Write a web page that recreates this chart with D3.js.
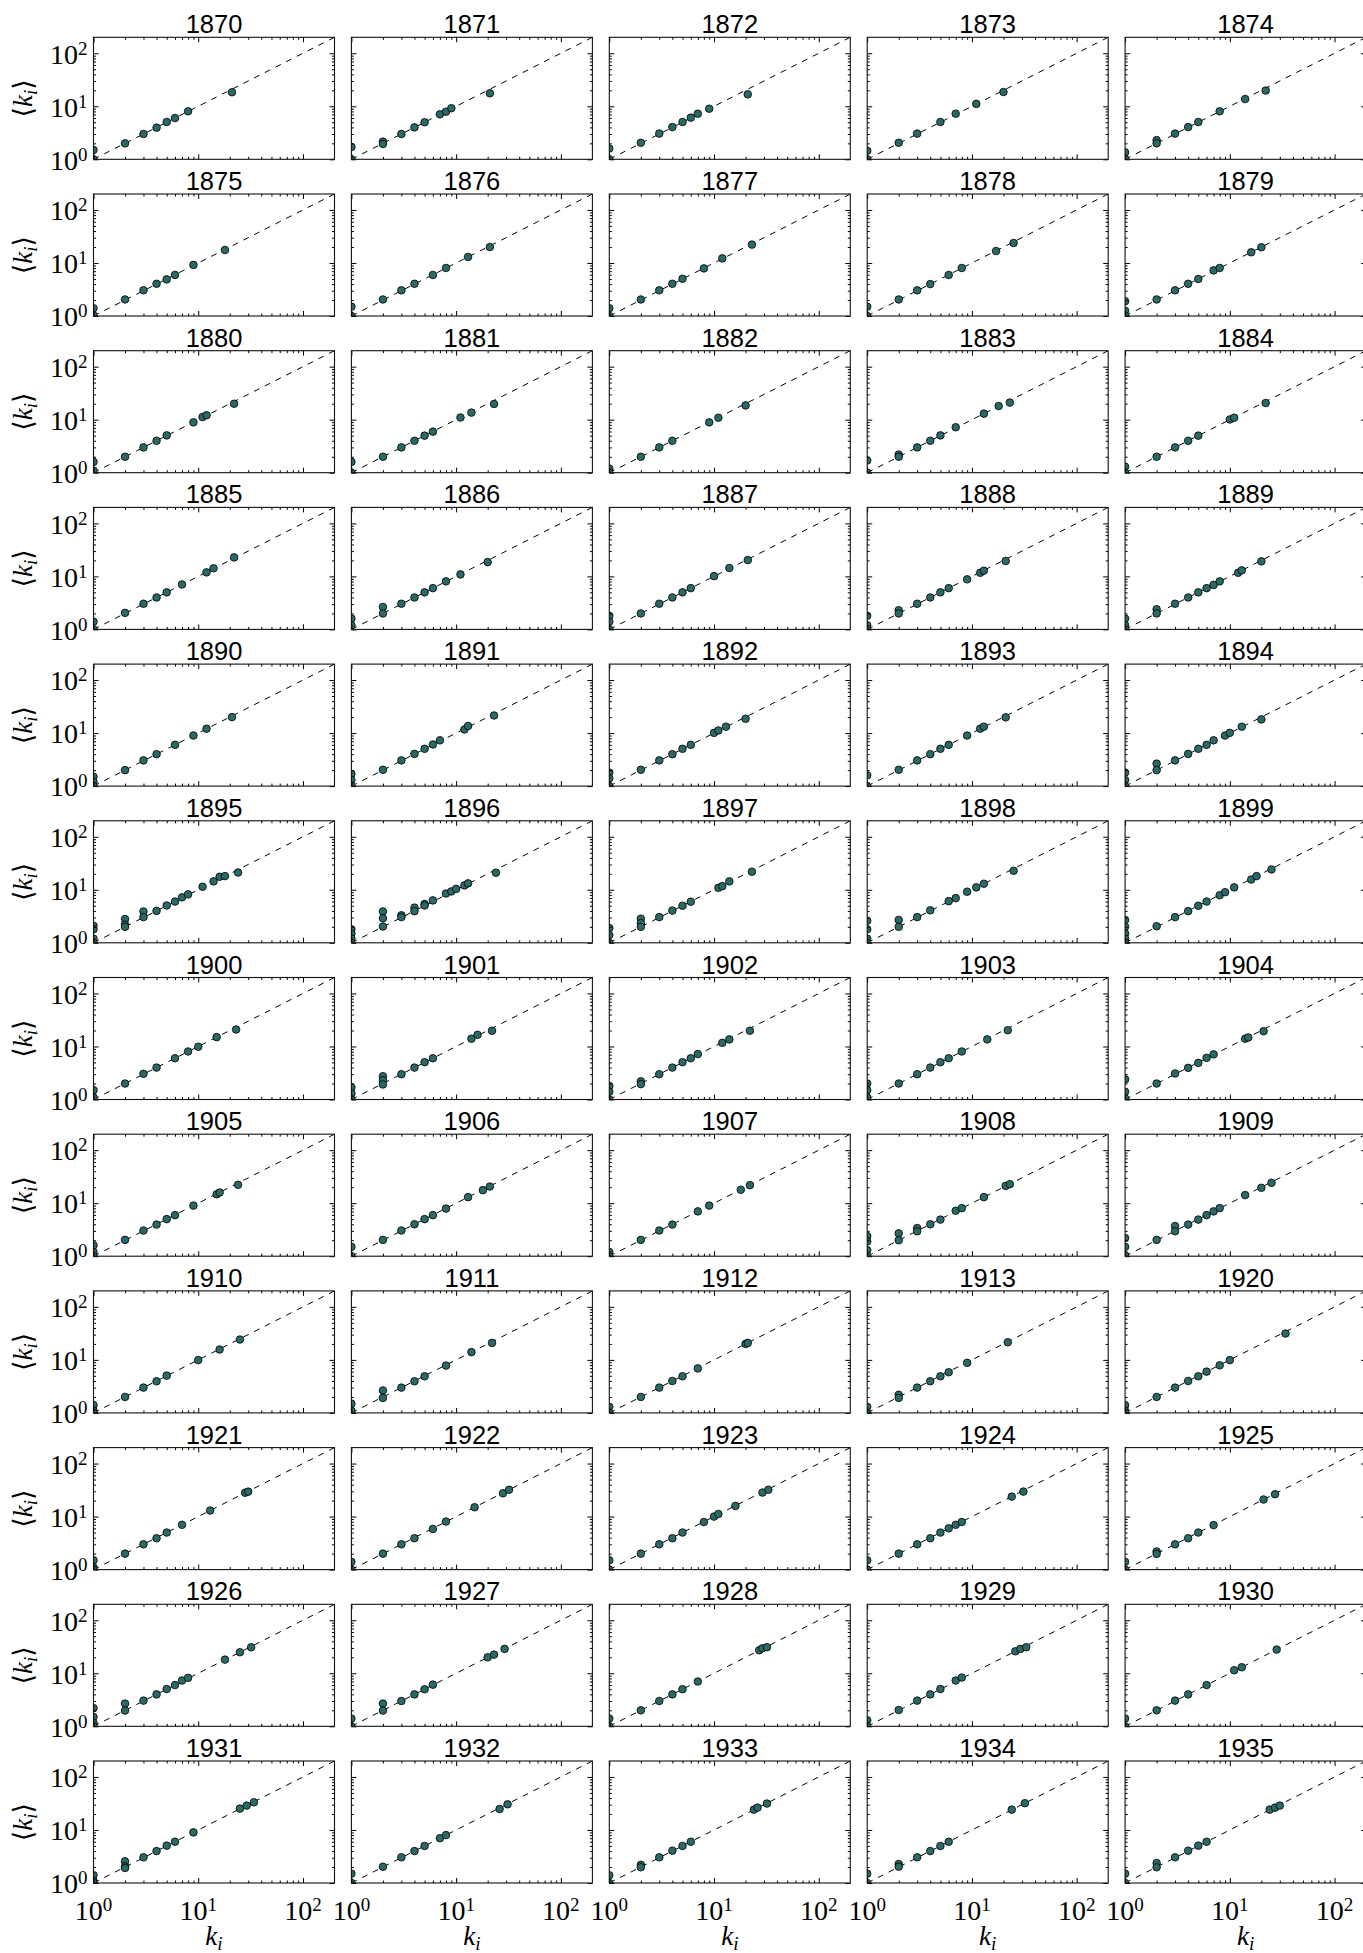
<!DOCTYPE html>
<html>
<head>
<meta charset="utf-8">
<script src="https://cdn.jsdelivr.net/npm/d3@7"></script>
<style>
  html, body { margin: 0; padding: 0; background: #fff; }
  svg { display: block; }
</style>
</head>
<body>
<svg id="chart" width="1363" height="1953"></svg>
<script>
// Degree k_i of each node versus the average degree of its neighbours <k_i>, one panel per year.
const years = [1870, 1871, 1872, 1873, 1874, 1875, 1876, 1877, 1878, 1879,
               1880, 1881, 1882, 1883, 1884, 1885, 1886, 1887, 1888, 1889,
               1890, 1891, 1892, 1893, 1894, 1895, 1896, 1897, 1898, 1899,
               1900, 1901, 1902, 1903, 1904, 1905, 1906, 1907, 1908, 1909,
               1910, 1911, 1912, 1913, 1920, 1921, 1922, 1923, 1924, 1925,
               1926, 1927, 1928, 1929, 1930, 1931, 1932, 1933, 1934, 1935];

// [k_i, <k_i>] pairs
const d1870 = [[1,1.5],[1,1.0],[2,2],[3,3],[4,3.95],[5,5.05],[6,6],[8,8.05],[21,18.4]];
const d1871 = [[1,1.7],[1,1],[2,2.15],[2,1.95],[3,3],[4,4],[5,5],[7,7.05],[8,7.9],[9,9.2],[21,17.6]];
const d1872 = [[1,1.6],[1,1],[2,2.05],[3,3.05],[4,4.05],[5,5.05],[6,6.1],[7,7.25],[9,9],[21,16.8]];
const d1873 = [[1,1.45],[1,1],[2,2.05],[3,3.05],[5,5.05],[7,7.25],[11,11.1],[20,18.6]];
const d1874 = [[1,1.35],[1,1.02],[2,2.3],[2,2],[3,3.05],[4,4.05],[5,5.05],[8,8.05],[14,13.7],[22,19.8]];
const d1875 = [[1,1.4],[1,1.03],[2,2.05],[3,3.05],[4,4.05],[5,4.9],[6,5.95],[9,9.2],[18,17.6]];
const d1876 = [[1,1.5],[1,1],[2,2.05],[3,3.05],[4,4.05],[6,5.95],[8,8.05],[13,13],[21,20]];
const d1877 = [[1,1.4],[1,1],[2,2.05],[3,3.05],[4,4.05],[5,5.05],[8,7.9],[12,12.2],[23,22.2]];
const d1878 = [[1,1.5],[1,1],[2,2.05],[3,3.05],[4,4],[6,5.95],[8,8.05],[17,16.8],[25,23.8]];
const d1879 = [[1,1.9],[1,1.25],[1,1],[2,2.05],[3,3.05],[4,4.05],[5,5],[7,7.25],[8,8.05],[16,15.9],[20,19.8]];
const d1880 = [[1,1.6],[1,1.1],[2,2],[3,3],[4,4],[5,5.05],[9,8.9],[11,11.2],[12,12.1],[22,20]];
const d1881 = [[1,1.6],[1,1],[2,2],[3,3],[4,4],[5,5],[6,5.95],[11,11],[14,13.6],[23,19.8]];
const d1882 = [[1,1.2],[1,1],[2,2],[3,3],[4,4],[9,8.9],[11,10.9],[20,18.6]];
const d1883 = [[1,1.7],[1,1],[2,2.2],[2,2],[3,3],[4,4],[5,5.05],[7,7.2],[13,13],[18,18.1],[23,21]];
const d1884 = [[1,1.3],[1,1],[2,2],[3,3],[4,4],[5,5],[10,10.1],[11,10.9],[22,20.6]];
const d1885 = [[1,1.4],[1,1],[2,2.05],[3,3.05],[4,4],[5,5],[7,7.05],[12,11.9],[14,14.2],[22,22.8]];
const d1886 = [[1,1.6],[1,1.2],[2,2.65],[2,2],[3,3.05],[4,4],[5,5],[6,6],[8,8.05],[11,10.9],[20,18.6]];
const d1887 = [[1,1.8],[1,1.4],[1,1],[2,2],[3,3.05],[4,4],[5,5],[6,6],[10,10.1],[14,14.4],[21,20.3]];
const d1888 = [[1,1.8],[1,1.2],[1,1],[2,2.3],[2,2],[3,3.05],[4,4],[5,5],[6,6],[9,8.8],[12,11.7],[13,12.8],[21,19.5]];
const d1889 = [[1,1.6],[1,1.2],[1,1],[2,2.4],[2,2],[3,3.05],[4,4],[5,5],[6,6],[7,6.9],[8,8.05],[12,11.7],[13,13],[20,19.2]];
const d1890 = [[1,1.5],[1,1.2],[1,1],[2,2],[3,3.05],[4,4],[6,6],[9,9],[12,12.1],[21,20]];
const d1891 = [[1,1.7],[1,1.3],[1,1],[2,2.03],[3,3.05],[4,4.05],[5,5.05],[6,6.1],[7,7.3],[12,11.7],[13,13.6],[23,21.5]];
const d1892 = [[1,1.8],[1,1.4],[1,1],[2,2.03],[3,3.05],[4,4],[5,5.05],[6,6],[10,10.1],[11,11.2],[13,13.2],[20,18.6]];
const d1893 = [[1,1.6],[1,1],[2,2.03],[3,3.05],[4,4],[5,5.05],[6,6],[9,9],[12,12.1],[13,13.2],[21,19.8]];
const d1894 = [[1,1.8],[1,1.3],[1,1],[2,2.65],[2,2],[3,3.05],[4,4.05],[5,5.05],[6,6],[7,7.3],[9,9],[10,10.1],[13,13.2],[20,18.1]];
const d1895 = [[1,2.1],[1,1.8],[1,1.2],[1,1],[2,2.8],[2,2.2],[2,2],[3,3.9],[3,3.05],[4,4],[5,5.05],[6,6],[7,7.2],[8,8.2],[11,11.4],[14,14.4],[16,17.6],[18,18.1],[24,21.2]];
const d1896 = [[1,1.8],[1,1.5],[1,1.2],[1,1],[2,3.9],[2,2.9],[2,2.03],[3,3.3],[3,3.05],[4,4.6],[4,3.95],[5,5.4],[5,5.05],[6,6.3],[8,8.5],[9,9.3],[10,10.4],[12,12.1],[13,13.2],[24,21]];
const d1897 = [[1,1.9],[1,1.4],[1,1],[2,2.85],[2,2.35],[2,2],[3,3.05],[4,4.05],[5,5],[6,5.95],[11,10.9],[12,11.7],[14,14.4],[23,21.9]];
const d1898 = [[1,2.6],[1,1.8],[1,1.2],[1,1],[2,2.7],[2,2],[3,3.05],[4,4.1],[6,6.1],[7,6.95],[9,9.2],[11,11.1],[13,13],[25,22.8]];
const d1899 = [[1,2.7],[1,2.0],[1,1.5],[1,1.2],[1,1],[2,2.05],[3,3.05],[4,3.95],[5,5],[6,6],[8,7.9],[9,9],[11,11.1],[16,15.6],[18,18.1],[25,24.2]];
const d1900 = [[1,1.5],[1,1.1],[2,2],[3,3.05],[4,4],[6,6],[8,8.05],[10,9.9],[15,15],[23,20.9]];
const d1901 = [[1,1.7],[1,1.3],[1,1],[2,2.75],[2,2.3],[2,1.92],[3,3],[4,4],[5,5.05],[6,6],[14,14],[16,16.6],[22,19.8]];
const d1902 = [[1,1.8],[1,1.4],[1,1],[2,2.2],[2,1.95],[3,3],[4,4],[5,5.05],[6,6],[7,7.2],[12,11.7],[14,13.6],[22,19.8]];
const d1903 = [[1,2.0],[1,1.5],[1,1.1],[2,2],[3,3],[4,4],[5,5.05],[6,6],[8,8.05],[14,13.6],[22,20.3]];
const d1904 = [[1,2.4],[1,1.4],[1,1.05],[2,2],[3,3.1],[4,3.95],[5,4.9],[6,6.1],[7,7.1],[14,14],[15,14.8],[21,19.4]];
const d1905 = [[1,1.6],[1,1.2],[1,1],[2,2.03],[3,3.05],[4,3.95],[5,5],[6,5.95],[9,9],[15,14.7],[16,15.9],[24,22.2]];
const d1906 = [[1,1.5],[1,1],[2,2.03],[3,3.05],[4,4],[5,5],[6,5.95],[8,7.9],[13,13],[18,17.6],[21,20.6]];
const d1907 = [[1,1.2],[1,1],[2,2.03],[3,3.05],[4,3.95],[7,7],[9,9],[18,17.9],[22,21.9]];
const d1908 = [[1,2.4],[1,1.9],[1,1.3],[1,1],[2,2.7],[2,2],[3,3.4],[3,2.95],[4,4],[5,4.9],[7,7.2],[8,8.05],[13,13],[21,21.2],[23,22.8]];
const d1909 = [[1,2.2],[1,1.5],[1,1.05],[2,2.03],[3,3.7],[3,2.95],[4,3.95],[5,4.9],[6,5.95],[7,7],[8,8.05],[14,14.2],[20,19.5],[25,24.2]];
const d1910 = [[1,1.4],[1,1.1],[1,1],[2,2],[3,3],[4,3.95],[5,5.05],[10,9.9],[16,15.7],[25,24.2]];
const d1911 = [[1,1.5],[1,1.1],[2,2.65],[2,1.92],[3,3],[4,3.95],[5,4.9],[8,7.8],[14,14],[22,20.9]];
const d1912 = [[1,1.3],[1,1],[2,2],[3,3],[4,4],[5,4.9],[7,6.9],[20,20],[21,20.9]];
const d1913 = [[1,1.3],[1,1],[2,2.2],[2,1.92],[3,3],[4,3.95],[5,4.9],[6,5.85],[9,8.8],[22,21.5]];
const d1920 = [[1,1.4],[1,1.1],[1,1],[2,2],[3,3],[4,4],[5,4.9],[6,6],[8,7.9],[10,9.9],[34,31.4]];
const d1921 = [[1,1.5],[1,1.1],[1,1],[2,2],[3,3],[4,3.9],[5,5],[7,7],[13,13],[28,28.2],[30,29.5]];
const d1922 = [[1,1.4],[1,1],[2,2],[3,3],[4,3.9],[6,5.85],[8,8.05],[15,15],[28,27.5],[32,32]];
const d1923 = [[1,1.5],[1,1],[2,2],[3,3],[4,3.9],[5,5],[8,7.9],[10,10],[11,11.2],[16,15.9],[29,28.4],[33,32]];
const d1924 = [[1,1.5],[1,1],[2,2],[3,3],[4,3.9],[5,5],[6,6],[7,7],[8,7.9],[24,23.8],[31,29.6]];
const d1925 = [[1,1.4],[1,1],[2,2.2],[2,1.98],[3,3],[4,3.9],[5,5],[7,6.9],[21,21],[27,26.4]];
const d1926 = [[1,2.2],[1,1.5],[1,1.15],[1,1],[2,2.68],[2,1.98],[3,3.05],[4,4],[5,5.05],[6,6],[7,7.3],[8,8.2],[18,18.1],[25,24.9],[32,30.9]];
const d1927 = [[1,1.4],[1,1],[2,2.68],[2,1.98],[3,3],[4,4],[5,5],[6,6.1],[20,20],[23,22.5],[29,28.8]];
const d1928 = [[1,1.4],[1,1],[2,2],[3,3],[4,4],[5,5],[7,7],[27,27.2],[29,29.6],[32,31]];
const d1929 = [[1,1.3],[1,1],[2,2.03],[3,3.05],[4,4],[5,5.05],[7,7.3],[8,8.3],[26,26],[29,28.8],[33,31]];
const d1930 = [[1,1.4],[1,1],[2,2],[3,3.05],[4,4],[6,6],[11,11.4],[13,13],[28,28]];
const d1931 = [[1,1.4],[1,1.1],[1,1],[2,2.56],[2,2.06],[2,1.92],[3,3.05],[4,4],[5,5.06],[6,6],[9,9],[25,25.3],[29,28.8],[34,33.3]];
const d1932 = [[1,1.5],[1,1],[2,2.03],[3,3.05],[4,4],[5,5],[7,7],[8,8],[26,24.9],[31,30.5]];
const d1933 = [[1,1.4],[1,1],[2,2.2],[2,1.98],[3,3.05],[4,4.07],[5,5],[6,6],[24,24.2],[26,26.4],[32,31.5]];
const d1934 = [[1,1.5],[1,1],[2,2.28],[2,2.03],[3,3.05],[4,4],[5,5],[6,6],[24,24.2],[32,32]];
const d1935 = [[1,1.5],[1,1],[2,2.38],[2,1.98],[3,3.05],[4,4.07],[5,5.06],[6,6],[24,24.2],[27,26.4],[30,28.8]];

const panels = [d1870, d1871, d1872, d1873, d1874, d1875, d1876, d1877, d1878, d1879,
                d1880, d1881, d1882, d1883, d1884, d1885, d1886, d1887, d1888, d1889,
                d1890, d1891, d1892, d1893, d1894, d1895, d1896, d1897, d1898, d1899,
                d1900, d1901, d1902, d1903, d1904, d1905, d1906, d1907, d1908, d1909,
                d1910, d1911, d1912, d1913, d1920, d1921, d1922, d1923, d1924, d1925,
                d1926, d1927, d1928, d1929, d1930, d1931, d1932, d1933, d1934, d1935];

// axis extent, decade ticks and their exponent labels, log minor ticks
const axisDomain = [1, 200];
const majorTicks = [1, 10, 100];
const tickExponents = ["0", "1", "2"];
const minorTicks = [2, 3, 4, 5, 6, 7, 8, 9, 20, 30, 40, 50, 60, 70, 80, 90];

// grid geometry
const nCols = 5, nRows = 12;
const W = 241, H = 122;
const left0 = 93.5, top0 = 37.3;
const colStep = 257.9, rowStep = 156.7;

const markerFill = "#2a6966";
const serif = "'Liberation Serif', 'DejaVu Serif', serif";
const sans = "'Liberation Sans', Arial, sans-serif";

const svg = d3.select("#chart");
svg.append("rect").attr("width", 1363).attr("height", 1953).attr("fill", "#fff");

const x = d3.scaleLog().domain(axisDomain).range([0, W]);
const y = d3.scaleLog().domain(axisDomain).range([H, 0]);

svg.append("defs").append("clipPath").attr("id", "plot-clip")
  .append("rect").attr("width", W).attr("height", H);

function powerLabel(text, exp) {
  text.append("tspan").text("10");
  text.append("tspan").attr("dy", -9).attr("font-size", 19).text(exp);
}

function styleAxis(g) {
  g.select(".domain").remove();
  g.selectAll(".tick line").attr("stroke", "#000").attr("stroke-width", 1);
  g.selectAll(".tick text").remove();
}

years.forEach((year, i) => {
  const col = i % nCols, row = Math.floor(i / nCols);
  const g = svg.append("g")
    .attr("transform", `translate(${left0 + col * colStep},${top0 + row * rowStep})`);

  const plot = g.append("g").attr("clip-path", "url(#plot-clip)");

  // reference line <k_i> = k_i
  plot.append("line")
    .attr("x1", x(axisDomain[0])).attr("y1", y(axisDomain[0]))
    .attr("x2", x(axisDomain[1])).attr("y2", y(axisDomain[1]))
    .attr("stroke", "#000").attr("stroke-width", 1)
    .attr("stroke-dasharray", "6,6");

  plot.selectAll("circle")
    .data(panels[i])
    .join("circle")
    .attr("cx", d => x(d[0]))
    .attr("cy", d => y(d[1]))
    .attr("r", 3.8)
    .attr("fill", markerFill)
    .attr("stroke", "#000")
    .attr("stroke-width", 0.8);

  // inward ticks on all four sides
  const sides = [
    [d3.axisBottom(x), `translate(0,${H})`],
    [d3.axisTop(x), "translate(0,0)"],
    [d3.axisLeft(y), "translate(0,0)"],
    [d3.axisRight(y), `translate(${W},0)`]
  ];
  sides.forEach(([axis, tr]) => {
    g.append("g").attr("transform", tr)
      .call(axis.tickValues(minorTicks).tickSizeInner(-2.5).tickSizeOuter(0).tickFormat(""))
      .call(styleAxis);
    g.append("g").attr("transform", tr)
      .call(axis.tickValues(majorTicks).tickSizeInner(-5).tickSizeOuter(0).tickFormat(""))
      .call(styleAxis);
  });

  g.append("rect")
    .attr("width", W).attr("height", H)
    .attr("fill", "none").attr("stroke", "#111").attr("stroke-width", 1.1);

  g.append("text")
    .attr("x", W / 2).attr("y", -4)
    .attr("text-anchor", "middle")
    .attr("font-family", sans).attr("font-size", 25.5)
    .attr("fill", "#000")
    .text(year);

  if (col === 0) {
    majorTicks.forEach((v, j) => {
      g.append("text")
        .attr("x", -6).attr("y", y(v) + 10.3)
        .attr("text-anchor", "end")
        .attr("font-family", serif).attr("font-size", 28)
        .attr("fill", "#000")
        .call(powerLabel, tickExponents[j]);
    });
    const yl = g.append("text")
      .attr("transform", `translate(-62,${H / 2}) rotate(-90)`)
      .attr("text-anchor", "middle")
      .attr("font-family", serif).attr("font-size", 27)
      .attr("fill", "#000");
    yl.append("tspan").text("\u27E8");
    yl.append("tspan").attr("font-style", "italic").text("k");
    yl.append("tspan").attr("font-style", "italic").attr("font-size", 19).attr("dy", 5).text("i");
    yl.append("tspan").attr("dy", -5).text("\u27E9");
  }

  if (row === nRows - 1) {
    majorTicks.forEach((v, j) => {
      g.append("text")
        .attr("x", x(v)).attr("y", H + 36.7)
        .attr("text-anchor", "middle")
        .attr("font-family", serif).attr("font-size", 28)
        .attr("fill", "#000")
        .call(powerLabel, tickExponents[j]);
    });
    const xl = g.append("text")
      .attr("x", W / 2).attr("y", H + 62)
      .attr("text-anchor", "middle")
      .attr("font-family", serif).attr("font-size", 27)
      .attr("font-style", "italic")
      .attr("fill", "#000");
    xl.append("tspan").text("k");
    xl.append("tspan").attr("font-size", 19).attr("dy", 5).text("i");
  }
});
</script>
</body>
</html>
